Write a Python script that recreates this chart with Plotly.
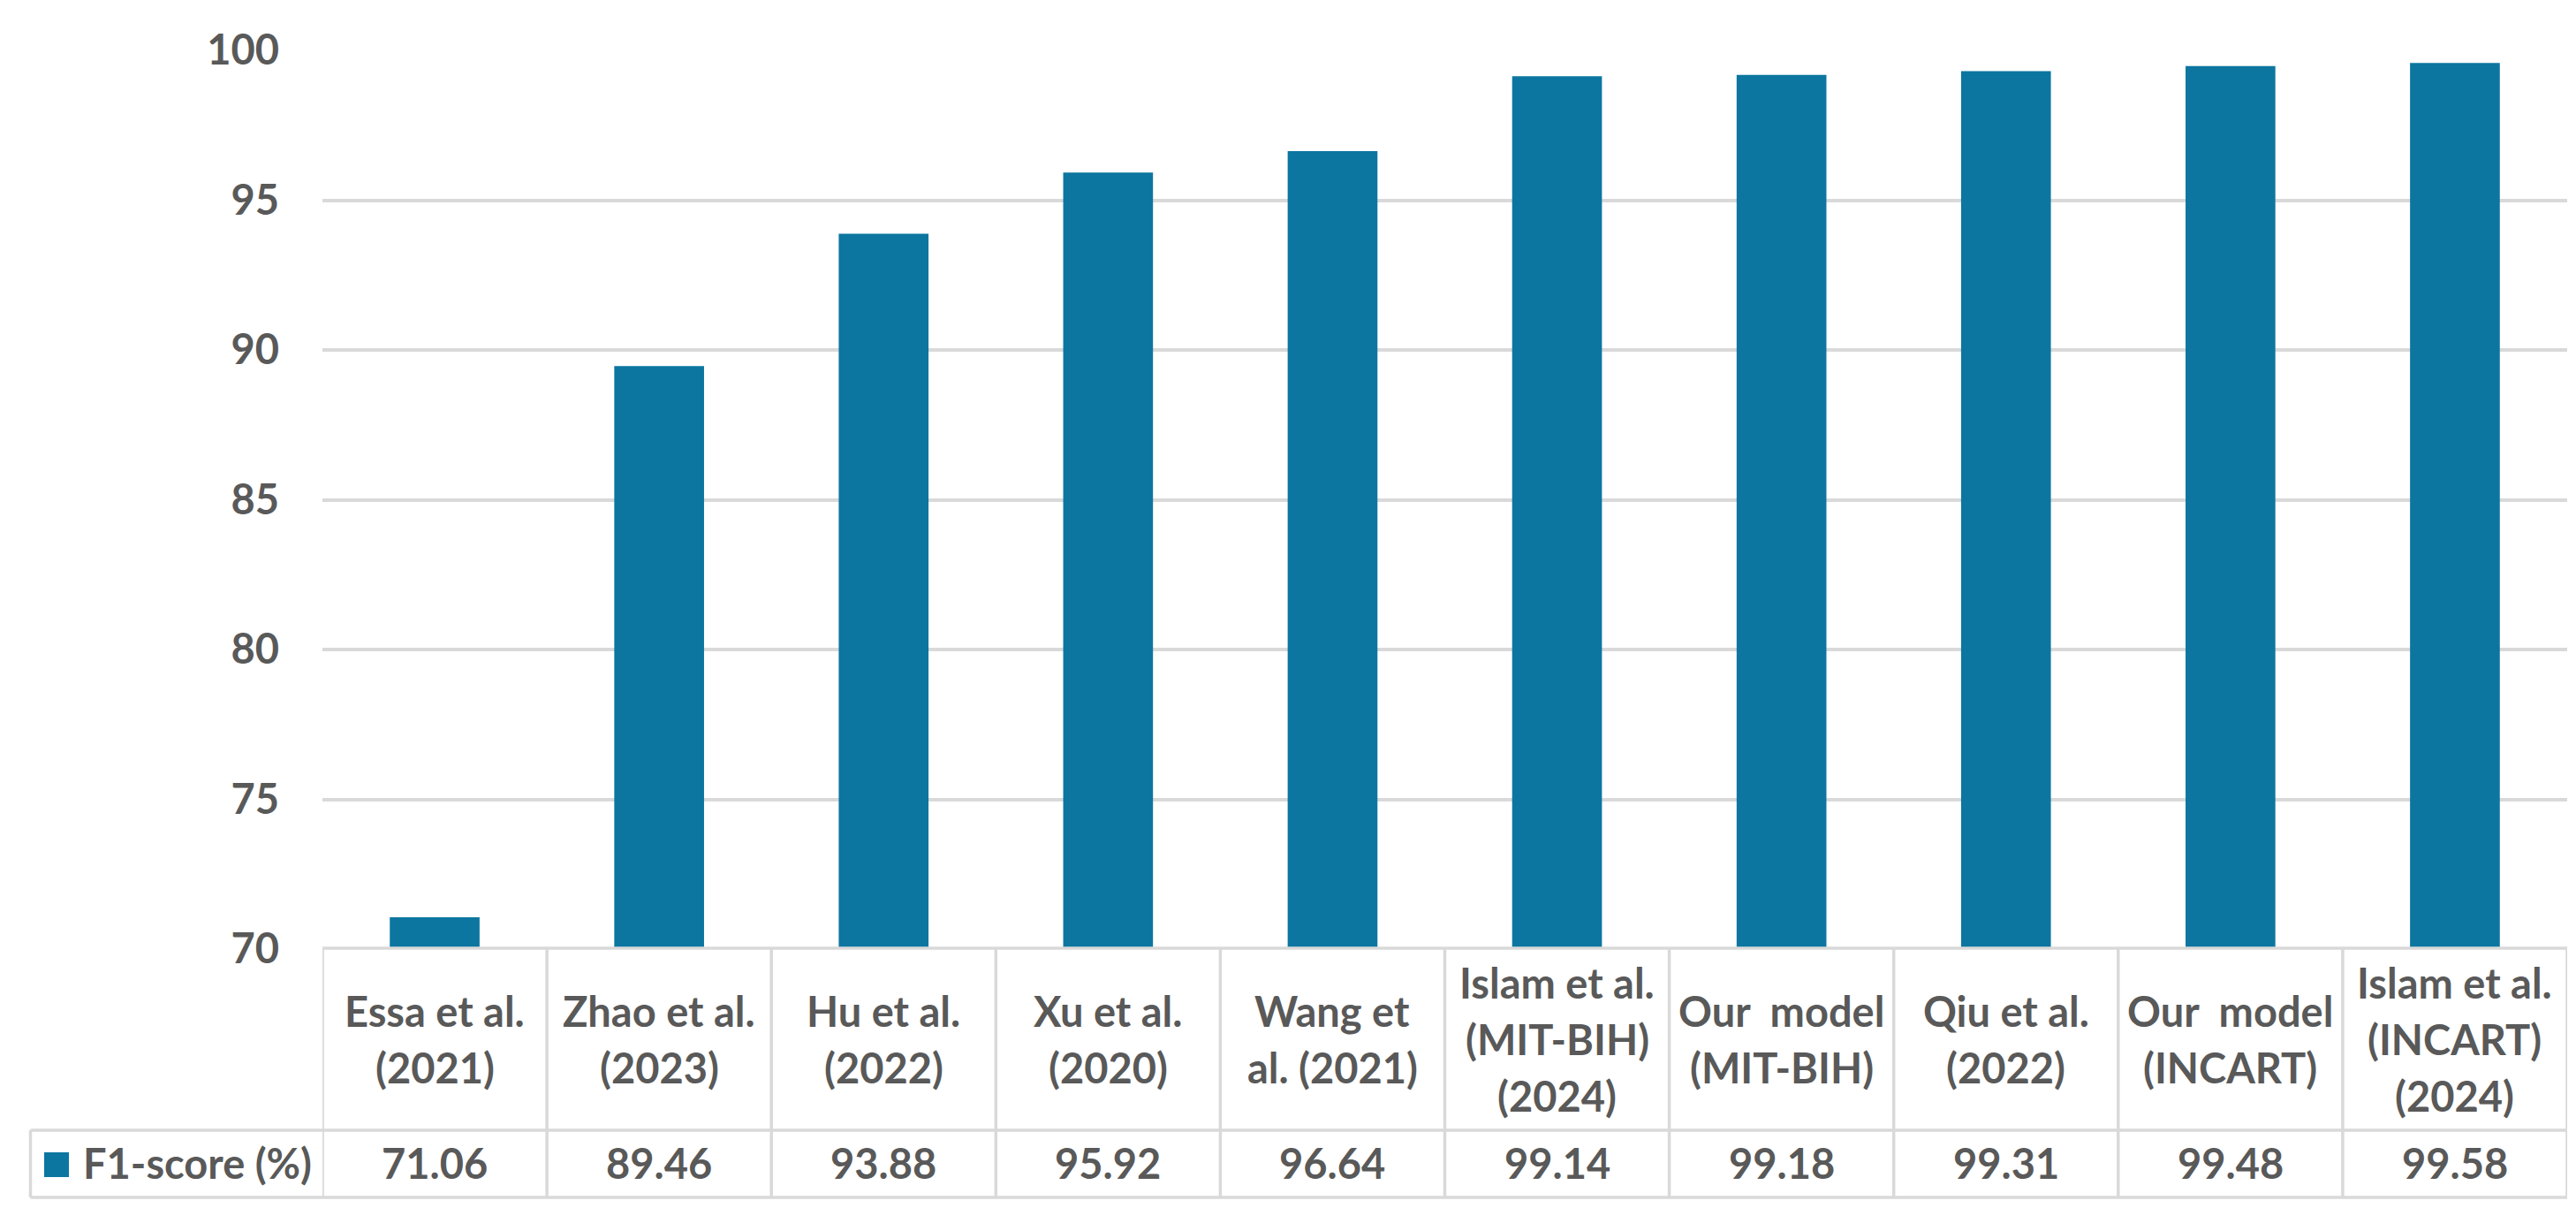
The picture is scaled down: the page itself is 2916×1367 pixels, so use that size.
import plotly.graph_objects as go

categories = [
    "Essa et al.<br>(2021)",
    "Zhao et al.<br>(2023)",
    "Hu et al.<br>(2022)",
    "Xu et al.<br>(2020)",
    "Wang et<br>al. (2021)",
    "Islam et al.<br>(MIT-BIH)<br>(2024)",
    "Our\u00a0 model<br>(MIT-BIH)",
    "Qiu et al.<br>(2022)",
    "Our\u00a0 model<br>(INCART)",
    "Islam et al.<br>(INCART)<br>(2024)",
]
f1_scores = [71.06, 89.46, 93.88, 95.92, 96.64, 99.14, 99.18, 99.31, 99.48, 99.58]
value_labels = ["71.06", "89.46", "93.88", "95.92", "96.64", "99.14", "99.18", "99.31", "99.48", "99.58"]
series_name = "F1-score (%)"
y_ticks = [70, 75, 80, 85, 90, 95, 100]

W, H = 2916, 1367
L, R, T, B = 357, 18, 49, 301
PW, PH = W - L - R, H - T - B

BAR = "#0C76A0"
TXT = "#595959"
GRID = "#D9D9D9"
FONT = dict(family="Lato", size=47, color=TXT, weight=700)
LINE_H = 64


def py(pix):
    return (H - B - pix) / PH


def px(pix):
    return (pix - L) / PW


n = len(categories)
xs = list(range(n))

fig = go.Figure()
fig.add_trace(go.Bar(x=xs, y=f1_scores, marker=dict(color=BAR, line=dict(width=0)),
                     width=0.4, name=series_name, showlegend=False, hoverinfo="y"))

shapes = []
line = dict(color=GRID, width=3.5)
y_top, y_mid, y_bot = py(1065), py(1271), py(1347)
x_left = px(26.5)
shapes.append(dict(type="line", xref="paper", yref="paper", x0=0, x1=1, y0=y_top, y1=y_top, line=line))
shapes.append(dict(type="line", xref="paper", yref="paper", x0=x_left, x1=1, y0=y_mid, y1=y_mid, line=line))
shapes.append(dict(type="line", xref="paper", yref="paper", x0=x_left, x1=1, y0=y_bot, y1=y_bot, line=line))
shapes.append(dict(type="line", xref="paper", yref="paper", x0=x_left, x1=x_left, y0=y_mid, y1=y_bot, line=line))
for i in range(n + 1):
    xb = i - 0.5
    shapes.append(dict(type="line", xref="x", yref="paper", x0=xb, x1=xb, y0=y_top, y1=y_bot, line=line))
shapes.append(dict(type="rect", xref="paper", yref="paper", x0=px(42), x1=px(70), y0=py(1324), y1=py(1296),
                   fillcolor=BAR, line=dict(width=0)))

annotations = []
y_cat = py(1168)
y_val = py(1308)
for i, (c, v) in enumerate(zip(categories, value_labels)):
    parts = c.split("<br>")
    k = len(parts)
    for j, part in enumerate(parts):
        off = ((k - 1) / 2 - j) * LINE_H
        annotations.append(dict(x=i, y=y_cat, xref="x", yref="paper", text=part, showarrow=False,
                                xanchor="center", yanchor="middle", font=FONT, yshift=off))
    annotations.append(dict(x=i, y=y_val, xref="x", yref="paper", text=v, showarrow=False,
                            xanchor="center", yanchor="middle", font=FONT))
annotations.append(dict(x=px(84), y=y_val, xref="paper", yref="paper", text=series_name, showarrow=False,
                        xanchor="left", yanchor="middle", font=FONT))

fig.update_layout(
    width=W, height=H,
    margin=dict(l=L, r=R, t=T, b=B),
    paper_bgcolor="white", plot_bgcolor="white",
    shapes=shapes, annotations=annotations,
    bargap=0.6,
)
fig.update_xaxes(range=[-0.5, n - 0.5], showticklabels=False, showgrid=False, zeroline=False,
                 showline=False, ticks="")
fig.update_yaxes(range=[70, 100], tickvals=y_ticks, ticktext=[str(t) for t in y_ticks],
                 showgrid=True, gridcolor=GRID, gridwidth=3.5, zeroline=False, showline=False,
                 ticks="", tickfont=FONT, ticklabelstandoff=48)

fig.write_html("out.html")
